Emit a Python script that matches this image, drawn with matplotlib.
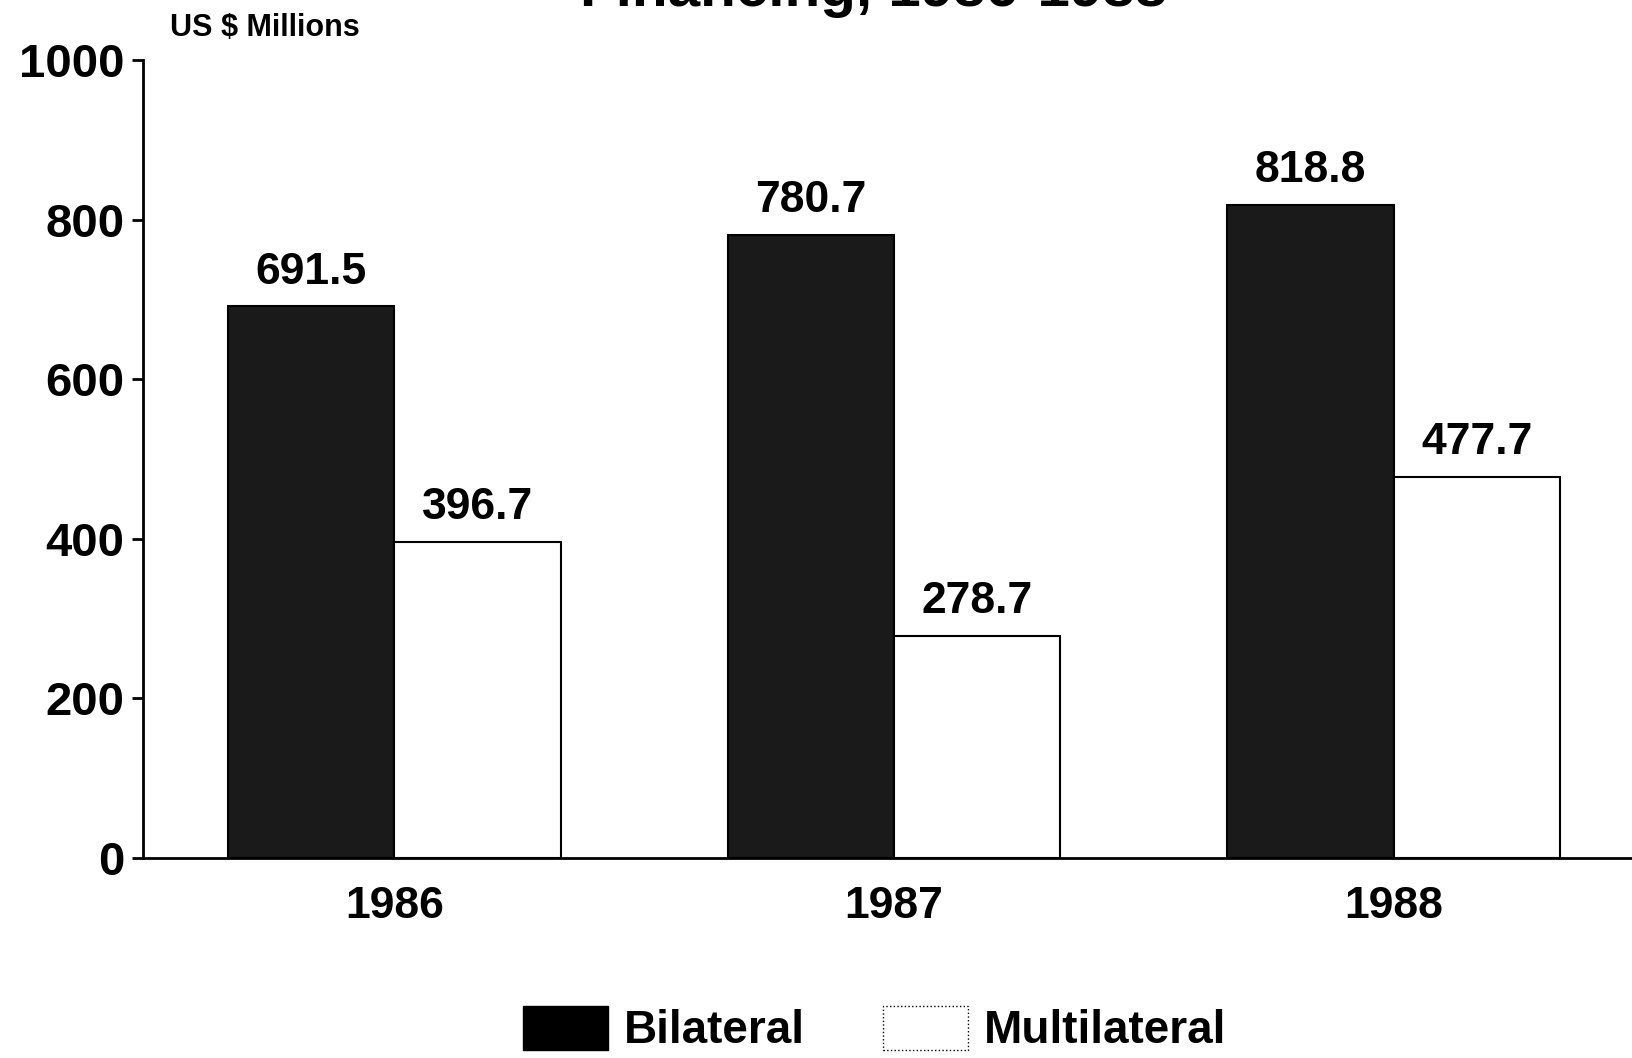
import numpy as np
import matplotlib.pyplot as plt
from matplotlib.patches import Patch

plt.rcParams['font.family'] = ['Liberation Sans', 'DejaVu Sans']
plt.rcParams['font.weight'] = 'bold'

years = ['1986', '1987', '1988']
bilateral = [691.5, 780.7, 818.8]
multilateral = [396.7, 278.7, 477.7]

fig = plt.figure(figsize=(16.32, 10.58), dpi=100)
ax = fig.add_axes([0.0874, 0.189, 0.9126, 0.754])

x = np.arange(len(years))
w = 0.333
b1 = ax.bar(x - w / 2, bilateral, w, color='#1a1a1a', edgecolor='black', linewidth=1.5)
b2 = ax.bar(x + w / 2, multilateral, w, color='white', edgecolor='black', linewidth=1.5)

for bars, vals in ((b1, bilateral), (b2, multilateral)):
    for r, v in zip(bars, vals):
        ax.annotate(f'{v:.1f}', (r.get_x() + r.get_width() / 2, v), xytext=(0, 10),
                    textcoords='offset points', ha='center', va='bottom',
                    fontsize=32, fontweight='bold')

ax.set_xlim(-0.504, 2.477)
ax.set_ylim(0, 1000)
ax.set_yticks(range(0, 1001, 200))
ax.set_xticks(x)
ax.set_xticklabels(years)
ax.tick_params(axis='y', length=8, width=2, labelsize=34, pad=5)
ax.tick_params(axis='x', length=0, labelsize=32, pad=20)
for lab in ax.get_xticklabels() + ax.get_yticklabels():
    lab.set_fontweight('bold')

ax.spines['top'].set_visible(False)
ax.spines['right'].set_visible(False)
ax.spines['left'].set_linewidth(2)
ax.spines['bottom'].set_linewidth(2)

fig.text(0.104, 0.974, 'US $ Millions', fontsize=22, fontweight='bold', va='center')
fig.text(0.535, 0.994, 'Financing, 1986-1988', fontsize=42, fontweight='bold',
         ha='center', va='baseline')

handles = [Patch(facecolor='black', edgecolor='black', label='Bilateral'),
           Patch(facecolor='white', edgecolor='black', linestyle=':', label='Multilateral')]
fig.legend(handles=handles, loc='center', bbox_to_anchor=(0.536, 0.027), ncol=2,
           frameon=False, handlelength=1.85, handleheight=1.1,
           columnspacing=1.7, handletextpad=0.35, prop={'weight': 'bold', 'size': 33})

fig.savefig('out.png', dpi=100)
